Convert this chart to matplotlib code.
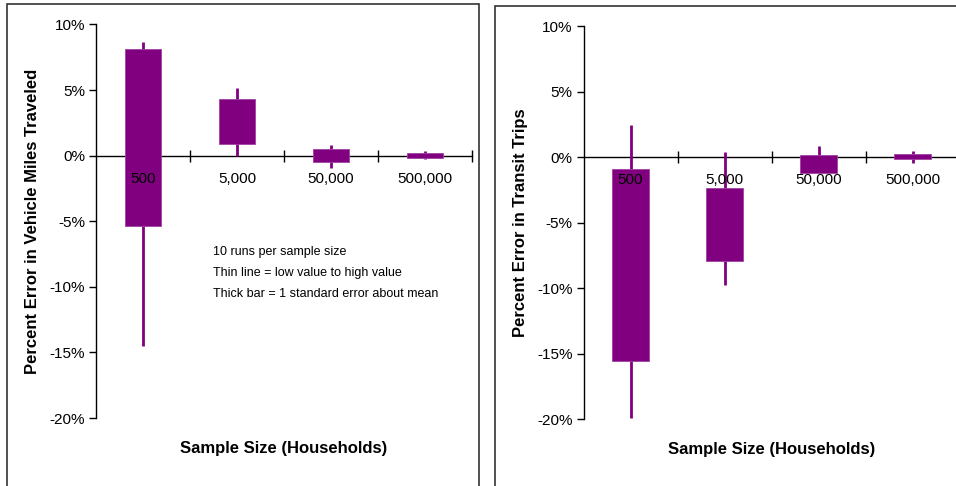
import numpy as np
import matplotlib.pyplot as plt
from matplotlib.patches import Rectangle

plt.rcParams['font.family'] = ['Liberation Sans', 'DejaVu Sans']

# sample sizes (households)
sizes = ["500", "5,000", "50,000", "500,000"]

# percent error in vehicle miles traveled
vmt_low = [-14.5, 0.0, -0.95, -0.25]
vmt_high = [8.65, 5.15, 0.85, 0.38]
vmt_se_low = [-5.35, 0.9, -0.52, -0.15]
vmt_se_high = [8.15, 4.3, 0.5, 0.18]

# percent error in transit trips
transit_low = [-19.9, -9.75, -1.0, -0.45]
transit_high = [2.45, 0.35, 0.85, 0.48]
transit_se_low = [-15.55, -7.95, -1.25, -0.15]
transit_se_high = [-0.95, -2.35, 0.12, 0.2]

purple = '#800080'
W, H = 956, 486


def px_axes(fig, x0, x1, ytop, ybot):
    return fig.add_axes([x0 / W, 1 - ybot / H, (x1 - x0) / W, (ybot - ytop) / H])


def draw_panel(ax, low, high, se_low, se_high, ylabel, label_y):
    x = np.arange(len(sizes)) + 0.5
    ax.vlines(x, low, high, color=purple, lw=2, zorder=2)
    ax.bar(x, np.array(se_high) - np.array(se_low), bottom=se_low, width=0.39,
           color=purple, edgecolor='#a040a0', lw=0.6, zorder=3)
    for xi, s in zip(x, sizes):
        ax.text(xi, -1.75, s, ha='center', va='center', fontsize=11, zorder=5)
    ax.set_xlim(0, 4)
    ax.set_ylim(-20, 10)
    ax.set_yticks(np.arange(-20, 11, 5))
    ax.set_yticklabels([f'{v}%' for v in range(-20, 11, 5)], fontsize=11)
    ax.tick_params(axis='y', direction='out', length=5, width=1, pad=3)
    ax.set_xticks([1, 2, 3, 4])
    ax.set_xticklabels([])
    ax.tick_params(axis='x', direction='inout', length=9, width=1)
    for s in ['top', 'right']:
        ax.spines[s].set_visible(False)
    ax.spines['bottom'].set_position(('data', 0))
    ax.spines['bottom'].set_zorder(1)
    ax.spines['left'].set_linewidth(1)
    ax.spines['bottom'].set_linewidth(1)
    ax.set_facecolor('none')
    ax.set_xlabel('Sample Size (Households)', fontsize=12, fontweight='bold')
    ax.xaxis.set_label_coords(0.5, -0.059)
    ax.set_ylabel(ylabel, fontsize=12, fontweight='bold')
    ax.yaxis.set_label_coords(label_y, 0.5)


fig = plt.figure(figsize=(W / 100, H / 100), dpi=100)

# chart area borders
fig.patches.append(Rectangle((7 / W, -0.1), (479 - 7) / W, 1.1 - 3.5 / H,
                             transform=fig.transFigure, fill=False,
                             ec='#333333', lw=1.2))
fig.patches.append(Rectangle((494.5 / W, -0.1), 0.6, 1.1 - 6 / H,
                             transform=fig.transFigure, fill=False,
                             ec='#333333', lw=1.2))

ax1 = px_axes(fig, 96, 472, 24.5, 418)
draw_panel(ax1, vmt_low, vmt_high, vmt_se_low, vmt_se_high,
           'Percent Error in Vehicle Miles Traveled', -56 / 376)
notes = ['10 runs per sample size',
         'Thin line = low value to high value',
         'Thick bar = 1 standard error about mean']
for i, note in enumerate(notes):
    ax1.text(0.31, -7.6 - 1.6 * i, note, fontsize=9,
             transform=ax1.get_yaxis_transform())

ax2 = px_axes(fig, 583.5, 959.5, 26, 419)
draw_panel(ax2, transit_low, transit_high, transit_se_low, transit_se_high,
           'Percent Error in Transit Trips', -56 / 376)

fig.savefig('out.png', dpi=100)
